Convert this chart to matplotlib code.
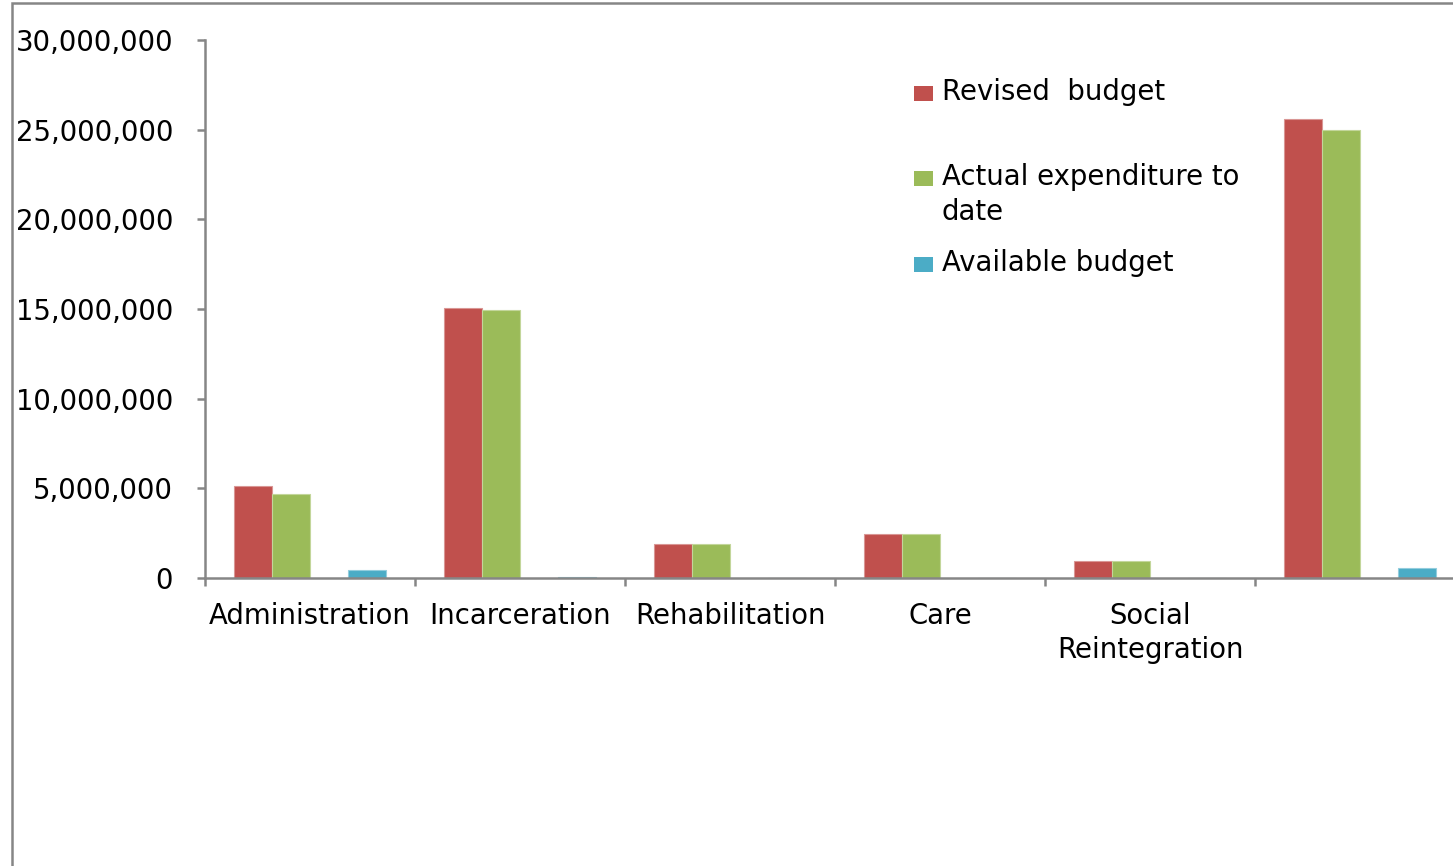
import matplotlib.pyplot as plt
from matplotlib.patches import Rectangle
from matplotlib.ticker import FuncFormatter

# Budget figures per programme (last group is the overall total, unlabelled)
categories = ["Administration", "Incarceration", "Rehabilitation", "Care",
              "Social\nReintegration", ""]
revised_budget = [5150000, 15050000, 1880000, 2450000, 950000, 25580000]
actual_expenditure = [4680000, 14950000, 1880000, 2450000, 950000, 25000000]
available_budget = [450000, 70000, 0, 0, 0, 560000]

series_labels = ["Revised  budget", "Actual expenditure to\ndate", "Available budget"]
colors = ["#C0504D", "#9BBB59", "#4BACC6"]
edges = ["#D99694", "#C3D69B", "#93CDDD"]
linecolor = "#868686"

plt.rcParams['font.family'] = ['DejaVu Sans']
fsize = 19.8

fig = plt.figure(figsize=(14.53, 8.66), dpi=100)
ax = fig.add_axes([205 / 1453, 1 - 578 / 866, 1260 / 1453, 538 / 866])

# four slots per group, third one stays empty
width = 38 / 210
slots = [0, 1, 3]
data = [revised_budget, actual_expenditure, available_budget]
for vals, slot, c, ec in zip(data, slots, colors, edges):
    xs = [i + 0.5 + (slot - 1.5) * width for i in range(len(categories))]
    ax.bar(xs, vals, width=width, color=c, edgecolor=ec, linewidth=0.8, zorder=2)

ax.set_xlim(0, len(categories))
ax.set_ylim(0, 30000000)
ax.set_yticks(range(0, 30000001, 5000000))
ax.yaxis.set_major_formatter(FuncFormatter(lambda v, p: f"{int(v):,}"))

ax.set_xticks(range(len(categories) + 1))
ax.set_xticklabels([])
ax.set_xticks([i + 0.5 for i in range(len(categories))], minor=True)
ax.set_xticklabels(categories, minor=True)
for t in ax.get_xticklabels(minor=True):
    t.set_linespacing(1.3)

for s in ['top', 'right']:
    ax.spines[s].set_visible(False)
for s in ['left', 'bottom']:
    ax.spines[s].set_color(linecolor)
    ax.spines[s].set_linewidth(1.8)
    ax.spines[s].set_zorder(3)

ax.tick_params(axis='y', which='major', direction='out', length=6, width=1.8,
               color=linecolor, labelsize=fsize, pad=17)
ax.tick_params(axis='x', which='major', direction='out', length=6, width=1.8,
               color=linecolor)
ax.tick_params(axis='x', which='minor', length=0, labelsize=fsize, pad=17)

# legend drawn by hand: markers line up with the first text line
leg_rows = [93, 178, 264]
for y, lab, c in zip(leg_rows, series_labels, colors):
    fig.patches.append(Rectangle((914 / 1453, 1 - (y + 8) / 866), 19 / 1453, 15 / 866,
                                 transform=fig.transFigure, facecolor=c,
                                 edgecolor='none'))
    fig.text(942 / 1453, 1 - (y - 15) / 866, lab, fontsize=fsize, va='top',
             ha='left', linespacing=1.3)

# chart-area border
fig.patches.append(Rectangle((12 / 1453, -0.1), 1.2, 1.1 - 3.5 / 866,
                             transform=fig.transFigure, facecolor='none',
                             edgecolor=linecolor, linewidth=1.8))

plt.savefig("out.png", dpi=100, facecolor='white')
plt.close()
